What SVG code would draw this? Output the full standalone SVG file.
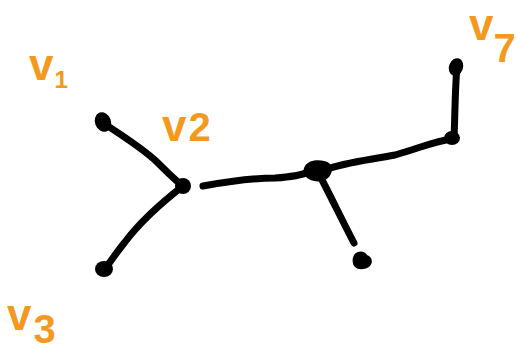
<svg xmlns="http://www.w3.org/2000/svg" width="516" height="350" viewBox="0 0 516 350">
<style>
.edge{fill:none;stroke:#000;stroke-width:7;stroke-linecap:round;stroke-linejoin:round}
.node{fill:#000}
.lbl{fill:#F39A1E;font-family:"Liberation Sans",Arial,sans-serif;font-weight:bold;font-size:44px}
.sub{font-size:24px}
.big{font-size:40px}
</style>
<rect width="516" height="350" fill="#fff"/>
<g id="connectors">
<path class="edge" d="M103,123 C120,134 145,150 158,163 C168,173 176,181 183,186"/>
<path class="edge" d="M183,186 C165,200 140,222 125,242 C117,252 110,262 105,269"/>
<path class="edge" d="M203,186 C225,182 250,178 275,178 C290,177 300,176 308,172"/>
<path class="edge" d="M325,170 C345,162 370,160 395,155 C420,148 435,141 452,139"/>
<path class="edge" d="M454,139 C455,115 455,90 457,66"/>
<path class="edge" d="M320,176 C330,195 342,220 354,243"/>
</g>
<g id="n1"><ellipse class="node" cx="103" cy="122" rx="8" ry="10" transform="rotate(-20 103 122)"/></g>
<g id="n2"><ellipse class="node" cx="183" cy="186" rx="8" ry="8"/></g>
<g id="n3"><ellipse class="node" cx="104" cy="269" rx="9" ry="8"/></g>
<g id="n4"><path class="node" d="M305,166 C309,159 323,159 329,163 C334,168 332,177 325,180 C318,183 310,181 306,177 C303,174 303,169 305,166 Z"/></g>
<g id="n5"><path class="node" d="M354,255 C358,250 365,251 367,255 C372,257 374,262 369,267 C364,270 358,270 355,267 C352,264 352,259 354,255 Z"/></g>
<g id="n6"><ellipse class="node" cx="452" cy="138" rx="8" ry="7"/></g>
<g id="n7"><ellipse class="node" cx="456" cy="67" rx="7" ry="9" transform="rotate(20 456 67)"/></g>
<g id="labels">
<text class="lbl" x="29" y="80">v<tspan class="sub" dx="1" dy="8">1</tspan></text>
<text class="lbl" x="162" y="141">v<tspan class="big" dx="2">2</tspan></text>
<text class="lbl" x="7" y="330">v<tspan class="big" dx="2" dy="13">3</tspan></text>
<text class="lbl" x="469" y="40">v<tspan class="big" dx="0" dy="22">7</tspan></text>
</g>
</svg>
